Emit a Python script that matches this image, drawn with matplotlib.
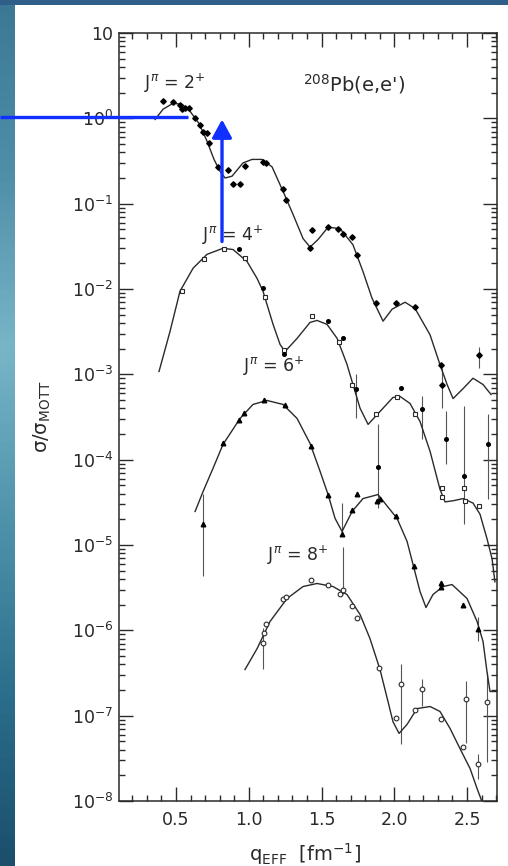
import numpy as np
import matplotlib; matplotlib.use("Agg")
import matplotlib.pyplot as plt
from matplotlib.colors import LinearSegmentedColormap
from matplotlib.patches import Rectangle
from matplotlib.ticker import LogLocator, NullFormatter

# --- theory curves ---
q2c = [0.356, 0.411, 0.479, 0.541, 0.596, 0.658, 0.713, 0.761, 0.802, 0.837, 0.885, 0.960,
       1.022, 1.091, 1.160, 1.235, 1.304, 1.373, 1.421, 1.476, 1.545, 1.627, 1.716, 1.785,
       1.847, 1.923, 1.985, 2.074, 2.143, 2.246, 2.314, 2.363, 2.404, 2.473, 2.541, 2.610, 2.665]
s2c = [0.97, 1.28, 1.50, 1.46, 1.21, 0.87, 0.54, 0.33, 0.24, 0.20, 0.21, 0.30,
       0.33, 0.33, 0.27, 0.14, 0.075, 0.039, 0.031, 0.038, 0.053, 0.051, 0.033, 0.016,
       7.8e-3, 4.2e-3, 5.8e-3, 7.0e-3, 5.9e-3, 2.9e-3, 1.3e-3, 7.6e-4, 5.2e-4, 6.8e-4, 9.0e-4, 7.6e-4, 5.8e-4]

q4c = [0.383, 0.459, 0.527, 0.617, 0.713, 0.823, 0.892, 0.988, 1.057, 1.098, 1.125, 1.167,
       1.215, 1.249, 1.332, 1.421, 1.469, 1.538, 1.607, 1.675, 1.716, 1.765, 1.820, 1.902,
       1.991, 2.040, 2.108, 2.177, 2.246, 2.314, 2.349, 2.404, 2.473, 2.541, 2.589, 2.637, 2.672, 2.692]
s4c = [1.08e-3, 3.2e-3, 9.4e-3, 0.0175, 0.0255, 0.030, 0.029, 0.021, 0.0133, 9.4e-3, 6.6e-3, 3.85e-3,
       2.24e-3, 1.85e-3, 2.64e-3, 4.06e-3, 4.28e-3, 3.85e-3, 2.64e-3, 1.31e-3, 7.6e-4, 4.0e-4, 2.59e-4, 3.67e-4,
       5.36e-4, 5.5e-4, 4.56e-4, 2.8e-4, 1.25e-4, 4.5e-5, 3.2e-5, 3.3e-5, 3.5e-5, 3.1e-5, 2.3e-5, 1.19e-5, 6.9e-6, 3.7e-6]

q6c = [0.631, 0.686, 0.754, 0.823, 0.940, 1.029, 1.125, 1.235, 1.332, 1.421, 1.490, 1.545,
       1.593, 1.641, 1.710, 1.785, 1.888, 2.019, 2.088, 2.129, 2.177, 2.218, 2.266, 2.335,
       2.397, 2.500, 2.569, 2.610, 2.637, 2.658, 2.706]
s6c = [2.47e-5, 4.24e-5, 7.9e-5, 1.51e-4, 3.04e-4, 4.44e-4, 4.94e-4, 4.44e-4, 3.04e-4, 1.55e-4, 7.3e-5, 3.9e-5,
       2.05e-5, 1.44e-5, 2.47e-5, 3.5e-5, 3.9e-5, 2.05e-5, 1.10e-5, 5.9e-6, 2.85e-6, 1.85e-6, 2.63e-6, 3.26e-6,
       3.44e-6, 2.36e-6, 1.27e-6, 7.4e-7, 3.3e-7, 1.92e-7, 1.92e-7]

q8c = [0.974, 1.057, 1.146, 1.263, 1.373, 1.469, 1.579, 1.675, 1.765, 1.833, 1.902, 1.957,
       1.991, 2.033, 2.088, 2.156, 2.246, 2.314, 2.383, 2.452, 2.521, 2.569, 2.603]
s8c = [3.47e-7, 6.1e-7, 1.27e-6, 2.36e-6, 3.26e-6, 3.54e-6, 3.26e-6, 2.63e-6, 1.53e-6, 8.0e-7, 3.47e-7, 1.46e-7,
       8.5e-8, 6.2e-8, 7.9e-8, 1.21e-7, 1.28e-7, 1.12e-7, 7.1e-8, 4.1e-8, 2.4e-8, 1.40e-8, 9.8e-9]

# --- measured points ---
q2p = [0.411, 0.479, 0.527, 0.541, 0.562, 0.589, 0.631, 0.665, 0.686, 0.713, 0.727, 0.789, 0.857,
       0.892, 0.940, 0.974, 1.098, 1.119, 1.235, 1.256, 1.435, 1.421, 1.545, 1.613, 1.648, 1.710,
       1.744, 1.875, 2.012, 2.143, 2.321, 2.328, 2.582]
s2p = [1.58, 1.54, 1.42, 1.28, 1.31, 1.31, 1.0, 0.83, 0.70, 0.67, 0.51, 0.27, 0.25,
       0.17, 0.17, 0.28, 0.31, 0.30, 0.15, 0.11, 0.049, 0.030, 0.053, 0.050, 0.044, 0.041,
       0.025, 6.8e-3, 6.8e-3, 6.1e-3, 1.3e-3, 7.4e-4, 1.7e-3]

q4open = [0.541, 0.692, 0.830, 0.974, 1.112, 1.242, 1.435, 1.620, 1.710, 1.875, 2.019, 2.143,
          2.328, 2.328, 2.479, 2.486, 2.582]
s4open = [9.4e-3, 0.0222, 0.0291, 0.0228, 7.97e-3, 1.91e-3, 4.77e-3, 2.37e-3, 7.6e-4, 3.39e-4, 5.36e-4, 3.39e-4,
          4.6e-5, 3.7e-5, 4.6e-5, 3.24e-5, 2.9e-5]
q4fill = [0.933, 1.098, 1.242, 1.545, 1.648, 1.737, 1.888, 2.046, 2.191, 2.356, 2.479, 2.644]
s4fill = [0.0291, 0.0102, 1.71e-3, 4.17e-3, 2.64e-3, 6.65e-4, 8.3e-5, 6.84e-4, 3.88e-4, 1.77e-4, 6.35e-5, 1.51e-4]

q6p = [0.686, 0.823, 0.933, 0.967, 1.105, 1.249, 1.428, 1.545, 1.744, 1.710, 1.641, 1.881, 1.902,
       2.012, 2.136, 2.321, 2.321, 2.473, 2.576]
s6p = [1.74e-5, 1.55e-4, 2.88e-4, 3.48e-4, 4.94e-4, 4.32e-4, 1.43e-4, 3.9e-5, 4.0e-5, 2.54e-5, 1.36e-5, 3.32e-5, 3.42e-5,
       2.16e-5, 5.6e-6, 3.54e-6, 3.18e-6, 2.0e-6, 1.05e-6]

q8p = [1.098, 1.105, 1.119, 1.235, 1.256, 1.428, 1.545, 1.627, 1.648, 1.710, 1.744, 1.895, 2.012,
       2.046, 2.143, 2.191, 2.321, 2.473, 2.493, 2.576, 2.637]
s8p = [7.2e-7, 9.2e-7, 1.20e-6, 2.30e-6, 2.43e-6, 3.94e-6, 3.44e-6, 2.70e-6, 3.0e-6, 1.95e-6, 1.41e-6, 3.66e-7, 9.5e-8,
       2.32e-7, 1.18e-7, 2.08e-7, 9.2e-8, 4.35e-8, 1.55e-7, 2.75e-8, 1.43e-7]

# error bars (q, low, high)
qerr = [2.328, 2.582, 1.737, 1.888, 2.191, 2.356, 2.479, 2.644, 0.686, 1.641, 2.576,
        1.098, 1.648, 2.046, 2.191, 2.493, 2.576, 2.637]
elo = [4.0e-4, 1.2e-3, 3.04e-4, 2.68e-5, 1.77e-4, 8.8e-5, 1.74e-5, 3.5e-5, 4.3e-6, 1.36e-5, 7.4e-7,
       3.56e-7, 2.7e-6, 4.71e-8, 1.31e-7, 4.84e-8, 1.83e-8, 2.9e-8]
ehi = [1.2e-3, 2.1e-3, 1.0e-3, 2.59e-4, 5.5e-4, 3.67e-4, 4.2e-4, 3.39e-4, 4.0e-5, 3.1e-5, 1.45e-6,
       1.06e-6, 9.6e-6, 4.08e-7, 2.72e-7, 2.58e-7, 3.6e-8, 3.29e-7]

yticks = [1e-8, 1e-7, 1e-6, 1e-5, 1e-4, 1e-3, 1e-2, 1e-1, 1e0, 1e1]
ylabels = ['10$^{-8}$', '10$^{-7}$', '10$^{-6}$', '10$^{-5}$', '10$^{-4}$', '10$^{-3}$',
           '10$^{-2}$', '10$^{-1}$', '10$^{0}$', '10']
xticks = [0.5, 1.0, 1.5, 2.0, 2.5]
xlabels = ['0.5', '1.0', '1.5', '2.0', '2.5']

ink = '#2a2a2a'
blue = '#1030ff'

fig = plt.figure(figsize=(5.08, 8.66), dpi=100)

# slide background: blue gradient strip on the left/top, white page
bg = fig.add_axes([0, 0, 1, 1], zorder=-10)
cmap = LinearSegmentedColormap.from_list('slide', ['#1b4f6c', '#2b6f8c', '#4f93ab', '#78b5c7', '#4f8fa8', '#3b7894'])
bg.imshow(np.linspace(0, 1, 200)[:, None], aspect='auto', cmap=cmap, extent=[0, 1, 0, 1], origin='lower')
bg.add_patch(Rectangle((0, 0.994), 1, 0.006, color='#2f5f88', lw=0))
bg.add_patch(Rectangle((15/508, 0), 1, 0.9942, color='white', lw=0))
bg.set_xlim(0, 1); bg.set_ylim(0, 1); bg.axis('off')

ax = fig.add_axes([119/508, 65/866, 378/508, 768/866])
ax.set_facecolor('none')
ax.set_yscale('log')
ax.set_xlim(0.108, 2.706)
ax.set_ylim(1e-8, 10)

for qc, sc in [(q2c, s2c), (q4c, s4c), (q6c, s6c), (q8c, s8c)]:
    ax.plot(qc, sc, color=ink, lw=1.0, zorder=3)

ax.vlines(qerr, elo, ehi, color='#555555', lw=0.8, zorder=2)
ax.plot(q2p, s2p, 'D', color='black', ms=2.8, zorder=4)
ax.plot(q4open, s4open, 's', mfc='white', mec=ink, mew=0.8, ms=3.3, zorder=4)
ax.plot(q4fill, s4fill, 'o', color='black', ms=2.6, zorder=4)
ax.plot(q6p, s6p, '^', color='black', ms=3.3, zorder=4)
ax.plot(q8p, s8p, 'o', mfc='white', mec=ink, mew=0.8, ms=3.4, zorder=4)

ax.set_yticks(yticks)
ax.set_yticklabels(ylabels)
ax.yaxis.set_minor_locator(LogLocator(base=10, subs=np.arange(2, 10), numticks=100))
ax.yaxis.set_minor_formatter(NullFormatter())
ax.set_xticks(xticks)
ax.set_xticklabels(xlabels)
ax.set_xticks(np.arange(0.2, 2.71, 0.1), minor=True)
ax.tick_params(which='both', direction='in', top=True, right=True, colors=ink, width=1.0)
ax.tick_params(which='major', length=10)
ax.tick_params(which='minor', length=4.5)
ax.tick_params(axis='y', labelsize=12.5, pad=4)
ax.tick_params(axis='x', labelsize=12.5, pad=7)
for sp in ax.spines.values():
    sp.set_linewidth(1.1); sp.set_color(ink)

ax.set_ylabel('σ/σ$_{\\mathregular{MOTT}}$', fontsize=14, color=ink)
ax.yaxis.set_label_coords(-0.175, 0.5)
ax.set_xlabel('q$_{\\mathregular{EFF}}$  [fm$^{\\mathregular{-1}}$]', fontsize=14, color=ink)
ax.xaxis.set_label_coords(0.492, -0.052)

ax.text(0.49, 2.6, 'J$^{\\pi}$ = 2$^{+}$', fontsize=12.5, color=ink, ha='center', va='center')
ax.text(1.72, 2.5, '$^{208}$Pb(e,e\')', fontsize=14, color=ink, ha='center', va='center')
ax.text(0.89, 0.042, 'J$^{\\pi}$ = 4$^{+}$', fontsize=12.5, color=ink, ha='center', va='center')
ax.text(1.17, 1.25e-3, 'J$^{\\pi}$ = 6$^{+}$', fontsize=12.5, color=ink, ha='center', va='center')
ax.text(1.34, 7.5e-6, 'J$^{\\pi}$ = 8$^{+}$', fontsize=12.5, color=ink, ha='center', va='center')

# blue annotation line and arrow
ax.plot([-0.71, 0.582], [1.03, 1.03], color=blue, lw=2.4, clip_on=False, zorder=10,
        solid_capstyle='butt')
ax.annotate('', xy=(0.816, 0.97), xytext=(0.816, 0.036),
            arrowprops=dict(arrowstyle='-|>,head_length=1.1,head_width=0.6', color=blue,
                            lw=2.4, mutation_scale=10, shrinkA=0, shrinkB=0), zorder=10)

fig.savefig('out.png', dpi=100)
